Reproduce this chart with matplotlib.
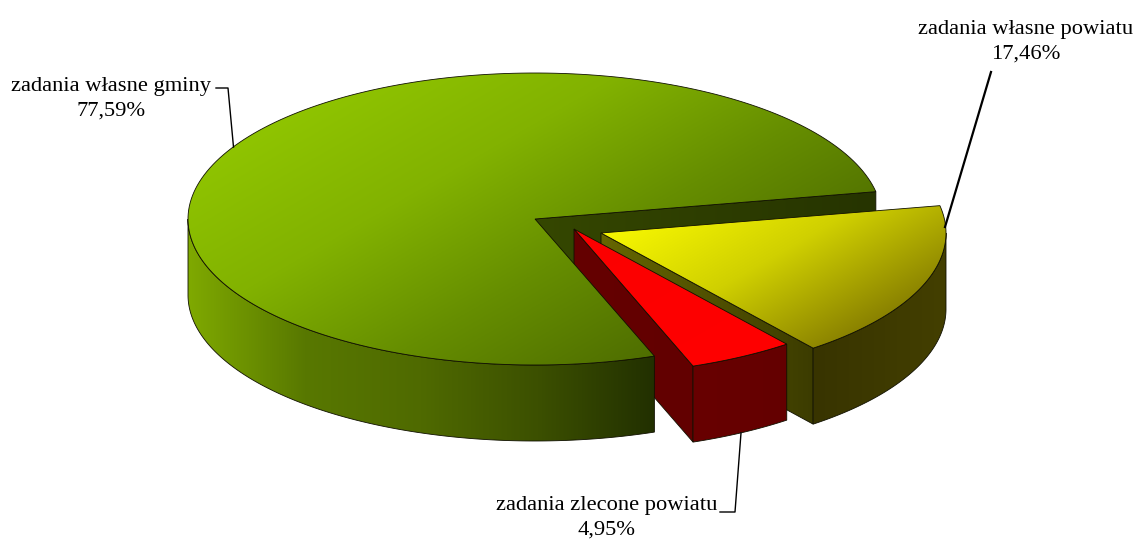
import numpy as np
import matplotlib
matplotlib.use('Agg')
import matplotlib.pyplot as plt
from matplotlib.colors import LinearSegmentedColormap
from matplotlib.patches import Polygon

# slices in drawing order, counter-clockwise from start_angle
names = ['zadania własne gminy', 'zadania zlecone powiatu', 'zadania własne powiatu']
values = [77.59, 4.95, 17.46]
value_labels = ['77,59%', '4,95%', '17,46%']

start_angle = 10.8
radii_x = [347.0, 346.0, 345.0]
ry = 146.0
depth = 76.0
centers = [(535, 219), (574, 229), (601, 233)]


def arc(c, rx, a0, a1, n=200):
    t = np.radians(np.linspace(a0, a1, n))
    return np.column_stack([c[0] + rx * np.cos(t), c[1] - ry * np.sin(t)])


def shade(ax, verts, colors, direction, lw=0.6):
    # gradient image clipped to the polygon, then a thin black outline
    verts = np.asarray(verts)
    x0, y0 = verts.min(axis=0)
    x1, y1 = verts.max(axis=0)
    xs = np.linspace(x0, x1, 500)
    ys = np.linspace(y0, y1, 500)
    xx, yy = np.meshgrid(xs, ys)
    proj = xx * direction[0] + yy * direction[1]
    vp = verts[:, 0] * direction[0] + verts[:, 1] * direction[1]
    grad = (proj - vp.min()) / (vp.max() - vp.min())
    cmap = LinearSegmentedColormap.from_list('g', colors)
    im = ax.imshow(grad, extent=(x0, x1, y1, y0), cmap=cmap, vmin=0, vmax=1,
                   aspect='auto', interpolation='bilinear', zorder=ax.zo)
    patch = Polygon(verts, closed=True, transform=ax.transData, fc='none', ec='none')
    ax.add_patch(patch)
    im.set_clip_path(patch)
    ax.add_patch(Polygon(verts, closed=True, fc='none', ec='#101000', lw=lw, zorder=ax.zo + 0.5))
    ax.zo += 1


def wall(p0, p1):
    return [p0, p1, (p1[0], p1[1] + depth), (p0[0], p0[1] + depth)]


def outer_wall(c, rx, a0, a1):
    top = arc(c, rx, a0, a1)
    return np.vstack([top, top[::-1] + [0, depth]])


# angles come from the values
sweeps = np.array(values) / sum(values) * 360
ends = start_angle + np.cumsum(sweeps)
starts = ends - sweeps

fig = plt.figure(figsize=(11.39, 5.39), dpi=100)
ax = fig.add_axes([0, 0, 1, 1])
ax.zo = 2

diag = (0.5, 0.87)
horiz = (1, 0)

green_c, red_c, yellow_c = centers
green_rx, red_rx, yellow_rx = radii_x

# back wall of the gap in the green slice
shade(ax, wall(tuple(green_c), tuple(arc(green_c, green_rx, start_angle, start_angle, 1)[0])),
      ['#354700', '#263400'], horiz)

# yellow slice
yellow_edge = tuple(arc(yellow_c, yellow_rx, starts[2], starts[2], 1)[0])
shade(ax, wall(tuple(yellow_c), yellow_edge), ['#666600', '#3c3c00'], horiz)
shade(ax, outer_wall(yellow_c, yellow_rx, starts[2], 360), ['#383400', '#433f00'], horiz)
top = np.vstack([[yellow_c], arc(yellow_c, yellow_rx, starts[2], ends[2])])
shade(ax, top, ['#f8f800', '#d0d000', '#8a8200'], diag)

# red slice
red_a = tuple(arc(red_c, red_rx, starts[1], starts[1], 1)[0])
shade(ax, wall(tuple(red_c), red_a), ['#650000', '#620000'], horiz)
shade(ax, outer_wall(red_c, red_rx, starts[1], ends[1]), ['#680000', '#640000'], horiz)
top = np.vstack([[red_c], arc(red_c, red_rx, starts[1], ends[1])])
shade(ax, top, ['#fb0000', '#ff0000'], diag)

# green slice on top of everything else
shade(ax, outer_wall(green_c, green_rx, 180, ends[0]),
      ['#7fa900', '#587800', '#4f6a00', '#3c5000', '#223000'], horiz)
top = np.vstack([[green_c], arc(green_c, green_rx, starts[0], ends[0])])
shade(ax, top, ['#8fc400', '#82b200', '#668e00', '#4f6e00'], diag)

# leader lines
ax.plot([216, 228, 233.5], [88, 88, 147], color='black', lw=1.0, zorder=40)
ax.plot([991, 945], [72, 227], color='black', lw=1.6, zorder=40)
ax.plot([741, 735, 720], [433, 512, 512], color='black', lw=1.0, zorder=40)

text_pos = [(111, 84), (607, 503), (1026, 27)]
for name, lab, (tx, ty) in zip(names, value_labels, text_pos):
    ax.text(tx, ty, name, family='Liberation Serif', fontsize=16.2, ha='center', va='center_baseline', color='black')
    ax.text(tx, ty + 25, lab, family='Liberation Serif', fontsize=16.2, ha='center', va='center_baseline', color='black')

ax.set_xlim(0, 1139)
ax.set_ylim(539, 0)
ax.axis('off')

fig.savefig('out.png', dpi=100, facecolor='white')
